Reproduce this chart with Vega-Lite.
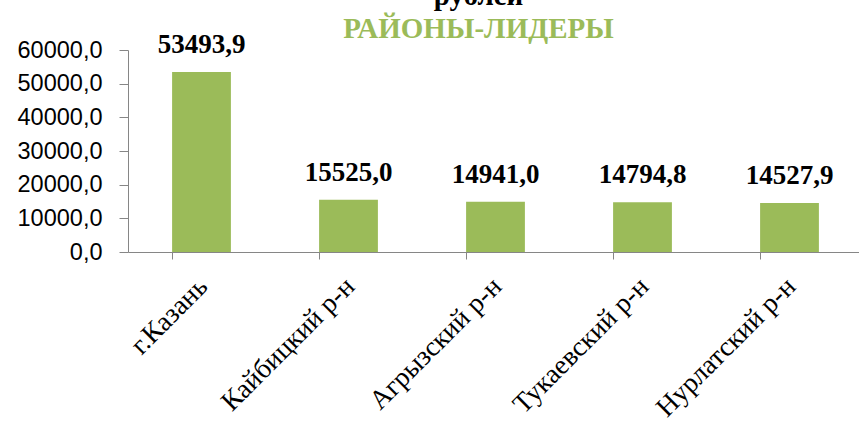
{
  "$schema": "https://vega.github.io/schema/vega-lite/v6.json",
  "width": 735,
  "height": 202,
  "autosize": {"type": "none"},
  "padding": {"left": 128, "top": 50, "right": 0, "bottom": 175},
  "background": "white",
  "config": {
    "view": {"stroke": null},
    "locale": {"number": {"decimal": ",", "thousands": "", "grouping": [3], "currency": ["", ""]}}
  },
  "title": {
    "text": "рублей",
    "subtitle": "РАЙОНЫ-ЛИДЕРЫ",
    "anchor": "middle",
    "frame": "group",
    "dx": -17,
    "offset": -13,
    "font": "Liberation Serif",
    "fontSize": 29,
    "fontWeight": "bold",
    "color": "black",
    "subtitleFont": "Liberation Serif",
    "subtitleFontSize": 29,
    "subtitleFontWeight": "bold",
    "subtitleColor": "#9BBB59",
    "subtitlePadding": 4
  },
  "data": {
    "values": [
      {"district": "г.Казань", "value": 53493.9},
      {"district": "Кайбицкий р-н", "value": 15525.0},
      {"district": "Агрызский р-н", "value": 14941.0},
      {"district": "Тукаевский р-н", "value": 14794.8},
      {"district": "Нурлатский р-н", "value": 14527.9}
    ]
  },
  "encoding": {
    "x": {
      "field": "district",
      "type": "nominal",
      "sort": null,
      "scale": {"paddingInner": 0.6, "paddingOuter": 0.3},
      "axis": {
        "title": null,
        "labelAngle": -45,
        "labelAlign": "right",
        "labelBaseline": "middle",
        "labelFont": "Liberation Serif",
        "labelFontSize": 27.5,
        "labelColor": "black",
        "labelPadding": 23,
        "labelLimit": 0,
        "labelOffset": 2,
        "bandPosition": 0,
        "domainColor": "#868686",
        "tickColor": "#868686",
        "tickSize": 7
      }
    },
    "y": {
      "field": "value",
      "type": "quantitative",
      "scale": {"domain": [0, 60000]},
      "axis": {
        "title": null,
        "values": [0, 10000, 20000, 30000, 40000, 50000, 60000],
        "format": ".1f",
        "grid": false,
        "labelFont": "Liberation Sans",
        "labelFontSize": 23.5,
        "labelColor": "black",
        "labelPadding": 17,
        "domainColor": "#868686",
        "tickColor": "#868686",
        "tickSize": 9
      }
    }
  },
  "layer": [
    {"mark": {"type": "bar", "color": "#9BBB59"}},
    {
      "mark": {"type": "text", "baseline": "alphabetic", "dy": -19, "font": "Liberation Serif", "fontSize": 27, "fontWeight": "bold", "color": "black"},
      "encoding": {"text": {"field": "value", "type": "quantitative", "format": ".1f"}}
    }
  ]
}
